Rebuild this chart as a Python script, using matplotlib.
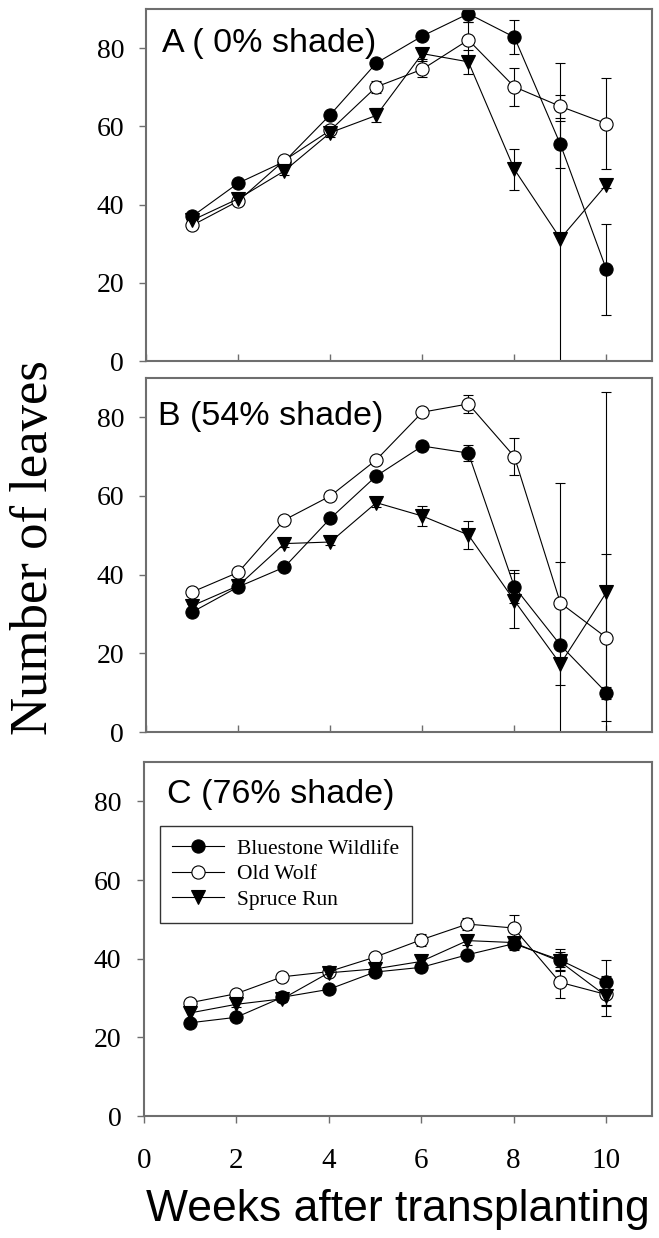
import numpy as np
import matplotlib
matplotlib.use("Agg")
import matplotlib.pyplot as plt
from matplotlib.lines import Line2D

weeks = np.arange(1, 11)

# panel A (0% shade)
bw_A = [37.0, 45.5, 51.0, 63.0, 76.2, 83.1, 88.8, 82.8, 55.4, 23.4]
bw_A_err = [0.8, 0.8, 0.8, 1.0, 1.0, 1.0, 2.0, 4.3, 6.0, 11.6]
ow_A = [34.7, 40.9, 51.3, 59.0, 70.1, 74.6, 82.1, 70.1, 65.1, 60.7]
ow_A_err = [0.5, 0.8, 0.8, 1.0, 1.5, 2.0, 4.5, 4.8, 3.0, 11.6]
sr_A = [36.0, 41.5, 48.6, 58.4, 62.8, 78.6, 76.5, 49.0, 31.3, 45.1]
sr_A_err = [0.5, 0.8, 1.0, 1.0, 1.8, 1.5, 3.0, 5.2, 45.0, 0.8]

# panel B (54% shade)
bw_B = [30.5, 36.9, 41.9, 54.3, 65.1, 72.7, 70.9, 36.9, 22.1, 10.0]
bw_B_err = [0.5, 0.5, 0.8, 0.8, 0.8, 0.8, 2.0, 4.2, 10.2, 1.5]
ow_B = [35.6, 40.6, 53.9, 60.0, 69.2, 81.3, 83.4, 70.0, 32.8, 24.0]
ow_B_err = [0.5, 0.5, 0.8, 0.8, 0.8, 0.8, 2.2, 4.7, 10.4, 21.3]
sr_B = [32.1, 37.2, 47.9, 48.3, 58.3, 54.9, 50.1, 33.4, 17.3, 35.5]
sr_B_err = [0.5, 0.5, 0.8, 0.8, 1.2, 2.5, 3.5, 7.0, 45.9, 51.0]

# panel C (76% shade)
bw_C = [23.7, 25.1, 30.2, 32.2, 36.6, 37.8, 41.0, 43.8, 39.7, 34.0]
bw_C_err = [0.5, 0.5, 0.5, 0.5, 0.8, 0.8, 0.8, 1.5, 2.7, 5.7]
ow_C = [28.8, 31.1, 35.4, 36.7, 40.4, 44.8, 48.8, 47.8, 34.0, 30.9]
ow_C_err = [0.5, 0.5, 0.5, 0.8, 1.0, 1.5, 1.5, 3.2, 4.0, 3.0]
sr_C = [26.2, 28.4, 29.8, 36.4, 37.4, 39.3, 44.6, 44.1, 39.3, 30.5]
sr_C_err = [1.5, 0.8, 0.8, 0.8, 0.8, 0.8, 1.0, 1.5, 2.5, 5.0]

sites = ["Bluestone Wildlife", "Old Wolf", "Spruce Run"]
titles = ["A ( 0% shade)", "B (54% shade)", "C (76% shade)"]
panels = [
    [(bw_A, bw_A_err), (ow_A, ow_A_err), (sr_A, sr_A_err)],
    [(bw_B, bw_B_err), (ow_B, ow_B_err), (sr_B, sr_B_err)],
    [(bw_C, bw_C_err), (ow_C, ow_C_err), (sr_C, sr_C_err)],
]

styles = [dict(marker="o", mfc="black"),
          dict(marker="o", mfc="white"),
          dict(marker="v", mfc="black")]

serif = "Liberation Serif"
sans = "Liberation Sans"
spine_col = "#6e6e6e"

fig = plt.figure(figsize=(6.59, 12.38), dpi=100)
boxes = [[0.222, 0.7084, 0.768, 0.2843],
         [0.222, 0.4087, 0.768, 0.2860],
         [0.218, 0.0985, 0.772, 0.2860]]
title_pos = [(0.032, 0.878), (0.024, 0.867), (0.045, 0.885)]

for i, box in enumerate(boxes):
    ax = fig.add_axes(box)
    for (vals, errs), st, name in zip(panels[i], styles, sites):
        ax.errorbar(weeks, vals, yerr=errs, color="black", lw=0.8,
                    elinewidth=0.8, capsize=3.5, capthick=0.8,
                    marker=st["marker"], mfc=st["mfc"], mec="black",
                    mew=0.8, ms=9.5)
    ax.set_xlim(0, 11)
    ax.set_ylim(0, 90)
    ax.set_yticks([0, 20, 40, 60, 80])
    ax.set_xticks([0, 2, 4, 6, 8, 10])
    for sp in ax.spines.values():
        sp.set_color(spine_col)
        sp.set_linewidth(1.5)
    ax.tick_params(axis="y", direction="out", length=5, width=1,
                   color=spine_col, pad=11)
    for lab in ax.get_yticklabels():
        lab.set_fontfamily(serif)
        lab.set_fontsize(20)
    if i < 2:
        ax.tick_params(axis="x", direction="in", length=5, width=1,
                       color=spine_col, labelbottom=False)
    else:
        ax.tick_params(axis="x", direction="out", length=5, width=1,
                       color=spine_col, pad=18)
        for lab in ax.get_xticklabels():
            lab.set_fontfamily(serif)
            lab.set_fontsize(21)
        ax.set_xlabel("Weeks after transplanting", fontfamily=sans,
                      fontsize=32, labelpad=11)
        handles = [Line2D([], [], color="black", lw=0.8, marker=st["marker"],
                          mfc=st["mfc"], mec="black", mew=0.8, ms=9.5)
                   for st in styles]
        leg = ax.legend(handles, sites, loc="upper left",
                        bbox_to_anchor=(0.01, 0.85),
                        prop={"family": serif, "size": 15.5},
                        frameon=True, fancybox=False, edgecolor="black",
                        handlelength=2.4, labelspacing=0.25,
                        borderpad=0.6, handletextpad=0.6)
        leg.get_frame().set_linewidth(1.0)
    tx, ty = title_pos[i]
    ax.text(tx, ty, titles[i], transform=ax.transAxes, fontfamily=sans,
            fontsize=24.5, va="baseline", ha="left")

fig.text(0.052, 0.558, "Number of leaves", rotation=90, fontfamily=serif,
         fontsize=38, ha="center", va="center")

fig.savefig("out.png", dpi=100)
